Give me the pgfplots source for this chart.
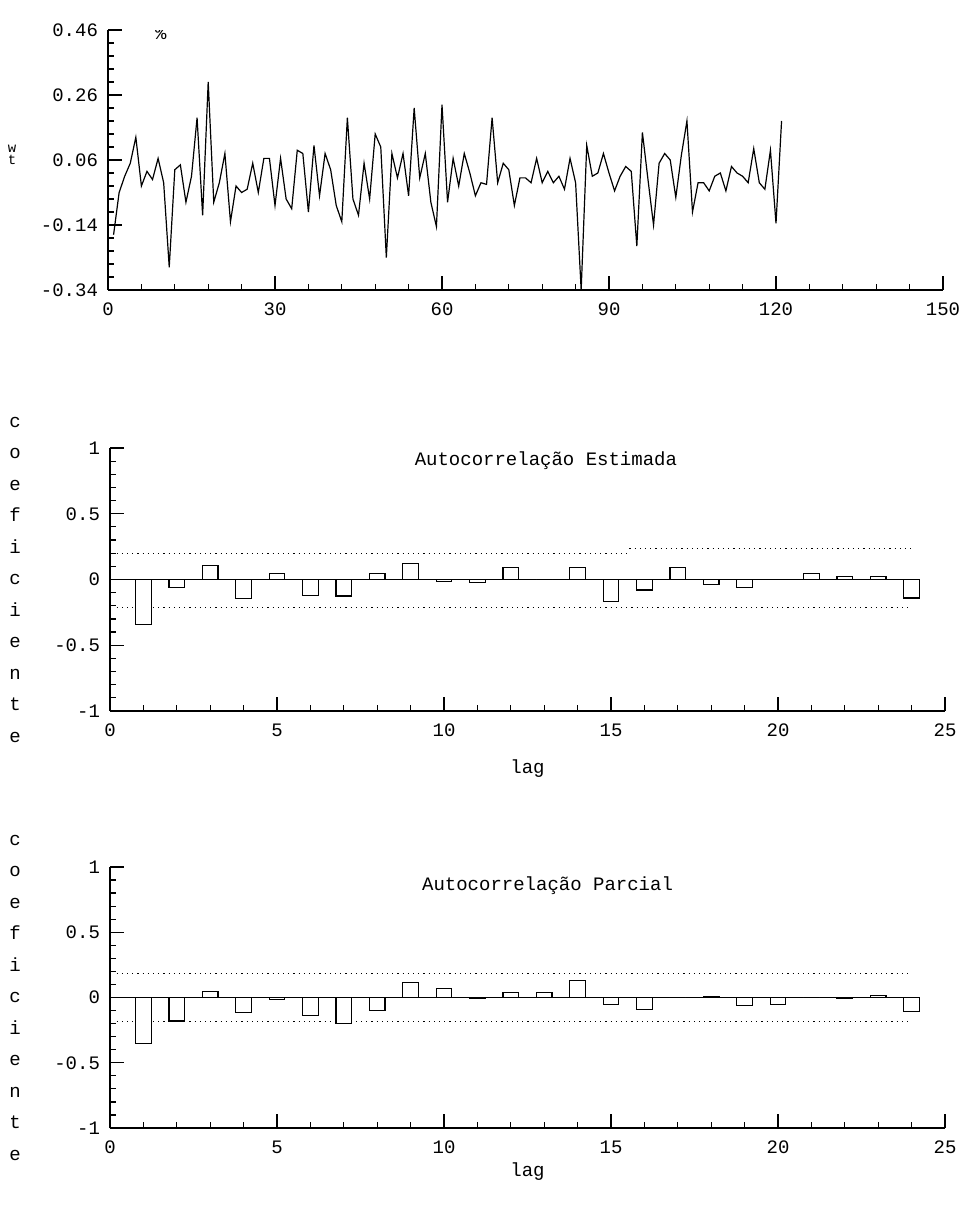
\documentclass[border=0pt]{standalone}
\usepackage{pgfplots}
\pgfplotsset{compat=1.18}
\usepackage{fontspec}
\setmainfont{Liberation Mono}
\begin{document}
\begin{tikzpicture}
\useasboundingbox (0,0) rectangle (481.5pt,602.5pt);
\pgfplotsset{
  every axis/.append style={
    scale only axis,
    axis lines=left,
    axis line style={-, line width=0.7pt},
    tick align=inside,
    tick style={black, line width=0.6pt},
    major tick length=7pt,
    minor tick length=3pt,
    font=\fontsize{9.5}{11}\selectfont,
    /pgf/number format/assume math mode=true,
    xticklabel style={yshift=-3pt},
    yticklabel style={xshift=-1.5pt},
    clip=true,
  }
}
% ---------- top: time series ----------
\begin{axis}[
  at={(54pt,457.5pt)}, anchor=south west,
  width=417.5pt, height=130pt,
  xmin=0, xmax=150, ymin=-0.34, ymax=0.46,
  xtick={0,30,60,90,120,150},
  xticklabels={0,30,60,90,120,150},
  minor x tick num=4,
  ytick={-0.34,-0.14,0.06,0.26,0.46},
  yticklabels={-0.34,-0.14,0.06,0.26,0.46},
  minor y tick num=4,
  ylabel={w\\t},
  ylabel style={rotate=-90, at={(axis description cs:0,0.52)}, anchor=center, xshift=-48pt, align=center, font=\fontsize{7}{6}\selectfont},
]
\addplot[black, line width=0.6pt] coordinates {
(1,-0.17) (2,-0.04) (3,0.01) (4,0.05) (5,0.13) (6,-0.02) (7,0.025) (8,0.00) (9,0.065) (10,-0.01)
(11,-0.27) (12,0.03) (13,0.045) (14,-0.07) (15,0.01) (16,0.19) (17,-0.11) (18,0.30) (19,-0.07) (20,-0.01)
(21,0.08) (22,-0.13) (23,-0.02) (24,-0.04) (25,-0.03) (26,0.05) (27,-0.04) (28,0.065) (29,0.065) (30,-0.08)
(31,0.065) (32,-0.06) (33,-0.09) (34,0.09) (35,0.08) (36,-0.10) (37,0.105) (38,-0.05) (39,0.08) (40,0.03)
(41,-0.08) (42,-0.13) (43,0.19) (44,-0.06) (45,-0.11) (46,0.05) (47,-0.06) (48,0.14) (49,0.10) (50,-0.24)
(51,0.08) (52,0.005) (53,0.08) (54,-0.05) (55,0.22) (56,0.005) (57,0.08) (58,-0.07) (59,-0.145) (60,0.23)
(61,-0.07) (62,0.065) (63,-0.02) (64,0.08) (65,0.02) (66,-0.05) (67,-0.01) (68,-0.015) (69,0.19) (70,-0.01)
(71,0.05) (72,0.03) (73,-0.08) (74,0.005) (75,0.005) (76,-0.01) (77,0.065) (78,-0.01) (79,0.025) (80,-0.01)
(81,0.01) (82,-0.03) (83,0.065) (84,-0.01) (85,-0.34) (86,0.105) (87,0.01) (88,0.02) (89,0.08) (90,0.02)
(91,-0.035) (92,0.01) (93,0.04) (94,0.025) (95,-0.205) (96,0.145) (97,0.0) (98,-0.14) (99,0.05) (100,0.08)
(101,0.06) (102,-0.055) (103,0.075) (104,0.18) (105,-0.10) (106,-0.01) (107,-0.01) (108,-0.035) (109,0.01) (110,0.02)
(111,-0.035) (112,0.04) (113,0.02) (114,0.01) (115,-0.01) (116,0.095) (117,-0.01) (118,-0.03) (119,0.09) (120,-0.135)
(121,0.18)
};
\node[font=\fontsize{9.5}{11}\selectfont] at (axis cs:9.5,0.45) {\%};
\end{axis}
% ---------- middle: ACF ----------
\begin{axis}[
  at={(55pt,247pt)}, anchor=south west,
  width=417.5pt, height=131.5pt,
  xmin=0, xmax=25, ymin=-1, ymax=1,
  xtick={0,5,10,15,20,25},
  xticklabels={0,5,10,15,20,25},
  minor x tick num=4,
  ytick={-1,-0.5,0,0.5,1},
  yticklabels={-1,-0.5,0,0.5,1},
  minor y tick num=4,
  ylabel={c\\o\\e\\f\\i\\c\\i\\e\\n\\t\\e},
  ylabel style={rotate=-90, at={(axis description cs:0,0.5)}, anchor=center, xshift=-47.5pt, align=center, font=\fontsize{9.5}{15.75}\selectfont},
  xlabel={lag},
  xlabel style={at={(axis description cs:0.5,0)}, anchor=center, yshift=-29pt},
]
\addplot[black, line width=0.6pt] coordinates {(0,0) (24.2,0)};
\addplot[black, dotted, line width=0.6pt] coordinates {(0.2,0.2) (15.55,0.2)};
\addplot[black, dotted, line width=0.6pt] coordinates {(15.55,0.235) (24,0.235)};
\addplot[black, dotted, line width=0.6pt] coordinates {(0.2,-0.21) (24,-0.21)};
\addplot[ybar, bar width=0.47, fill=white, draw=black, line width=0.6pt] coordinates {
(1,-0.343) (2,-0.058) (3,0.107) (4,-0.142) (5,0.043) (6,-0.122) (7,-0.125) (8,0.043)
(9,0.124) (10,-0.015) (11,-0.02) (12,0.09) (13,0.0) (14,0.09) (15,-0.17) (16,-0.08)
(17,0.09) (18,-0.04) (19,-0.06) (20,0.0) (21,0.045) (22,0.02) (23,0.02) (24,-0.14)
};
\node[font=\fontsize{9.5}{11}\selectfont] at (axis cs:13.05,0.906) {Autocorrelação Estimada};
\end{axis}
% ---------- bottom: PACF ----------
\begin{axis}[
  at={(55pt,38.5pt)}, anchor=south west,
  width=417.5pt, height=130.5pt,
  xmin=0, xmax=25, ymin=-1, ymax=1,
  xtick={0,5,10,15,20,25},
  xticklabels={0,5,10,15,20,25},
  minor x tick num=4,
  ytick={-1,-0.5,0,0.5,1},
  yticklabels={-1,-0.5,0,0.5,1},
  minor y tick num=4,
  ylabel={c\\o\\e\\f\\i\\c\\i\\e\\n\\t\\e},
  ylabel style={rotate=-90, at={(axis description cs:0,0.5)}, anchor=center, xshift=-47.5pt, align=center, font=\fontsize{9.5}{15.75}\selectfont},
  xlabel={lag},
  xlabel style={at={(axis description cs:0.5,0)}, anchor=center, yshift=-22pt},
]
\addplot[black, line width=0.6pt] coordinates {(0,0) (24.2,0)};
\addplot[black, dotted, line width=0.6pt] coordinates {(0.2,0.185) (24,0.185)};
\addplot[black, dotted, line width=0.6pt] coordinates {(0.2,-0.185) (24,-0.185)};
\addplot[ybar, bar width=0.47, fill=white, draw=black, line width=0.6pt] coordinates {
(1,-0.35) (2,-0.18) (3,0.046) (4,-0.115) (5,-0.015) (6,-0.136) (7,-0.2) (8,-0.1)
(9,0.112) (10,0.072) (11,-0.01) (12,0.04) (13,0.04) (14,0.13) (15,-0.055) (16,-0.095)
(17,0.0) (18,0.01) (19,-0.06) (20,-0.055) (21,0.0) (22,-0.01) (23,0.015) (24,-0.11)
};
\node[font=\fontsize{9.5}{11}\selectfont] at (axis cs:13.1,0.86) {Autocorrelação Parcial};
\end{axis}
\end{tikzpicture}
\end{document}
